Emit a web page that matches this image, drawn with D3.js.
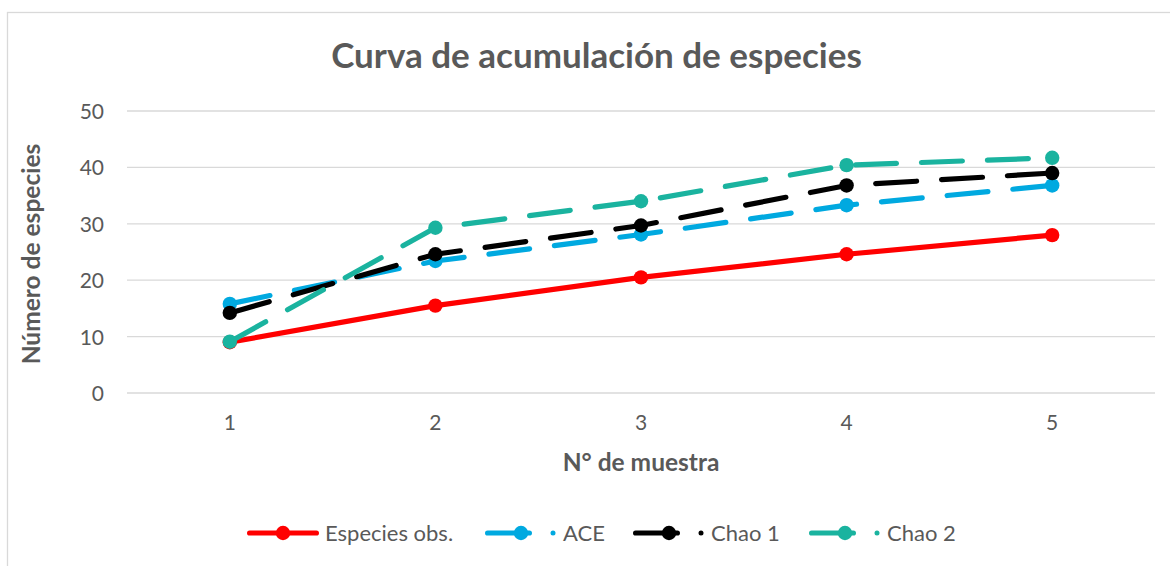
<!DOCTYPE html>
<html>
<head>
<meta charset="utf-8">
<script src="https://cdn.jsdelivr.net/npm/d3@7"></script>
<style>
  html, body { margin: 0; padding: 0; background: #fff; }
  svg { display: block; }
</style>
</head>
<body>
<svg id="chart" width="1170" height="566"></svg>
<script>
// Species accumulation data per sample
const samples = [1, 2, 3, 4, 5];
const especiesObs = [9, 15.5, 20.5, 24.6, 28];
const ace = [15.8, 23.4, 28.1, 33.3, 36.8];
const chao1 = [14.2, 24.6, 29.7, 36.8, 39];
const chao2 = [9.1, 29.3, 34, 40.4, 41.7];
const yTicks = [0, 10, 20, 30, 40, 50];

const seriesNames = ["Especies obs.", "ACE", "Chao 1", "Chao 2"];
const seriesValues = [especiesObs, ace, chao1, chao2];
const seriesColors = ["#ff0000", "#00a9e0", "#000000", "#1ab39f"];
const seriesDashed = [false, true, true, true];

const font = "Lato, 'Open Sans', sans-serif";
const textColor = "#595959";
const lineWidth = 5.2;
const markerR = 7.2;
const dash = "41 25";

const svg = d3.select("#chart");
const W = 1170, H = 566;

// Outer chart frame
svg.append("rect")
  .attr("x", 7.5).attr("y", 12.5)
  .attr("width", W + 10).attr("height", H + 10)
  .attr("fill", "#fff").attr("stroke", "#d9d9d9").attr("stroke-width", 1.3);

const plot = { left: 127, right: 1155, top: 111, bottom: 393 };

const x = d3.scaleBand().domain(samples).range([plot.left, plot.right]);
const y = d3.scaleLinear().domain([0, 50]).range([plot.bottom, plot.top]);
const cx = d => x(d) + x.bandwidth() / 2;

// Horizontal gridlines
svg.append("g").selectAll("line").data(yTicks).join("line")
  .attr("x1", plot.left).attr("x2", plot.right)
  .attr("y1", d => y(d)).attr("y2", d => y(d))
  .attr("stroke", "#d9d9d9").attr("stroke-width", 1.3);

// Y axis labels
const yAxis = svg.append("g")
  .attr("transform", `translate(${plot.left - 23},0)`)
  .call(d3.axisLeft(y).tickValues(yTicks).tickSize(0).tickPadding(0));
yAxis.select(".domain").remove();
yAxis.selectAll("text")
  .attr("font-family", font).attr("font-size", 21)
  .attr("fill", textColor).attr("dy", "0.36em");

// X axis labels
const xAxis = svg.append("g")
  .attr("transform", `translate(0,${plot.bottom + 37})`)
  .call(d3.axisBottom(x).tickSize(0).tickPadding(0));
xAxis.select(".domain").remove();
xAxis.selectAll("text")
  .attr("font-family", font).attr("font-size", 21)
  .attr("fill", textColor).attr("y", 0).attr("dy", 0);

// Title
svg.append("text")
  .attr("x", 596.5).attr("y", 68)
  .attr("text-anchor", "middle")
  .attr("font-family", font).attr("font-weight", "bold")
  .attr("font-size", 35).attr("fill", textColor)
  .text("Curva de acumulación de especies");

// Axis titles
svg.append("text")
  .attr("x", 641).attr("y", 471)
  .attr("text-anchor", "middle")
  .attr("font-family", font).attr("font-weight", "bold")
  .attr("font-size", 24.5).attr("fill", textColor)
  .text("N° de muestra");

svg.append("text")
  .attr("transform", `translate(40,254) rotate(-90)`)
  .attr("text-anchor", "middle")
  .attr("font-family", font).attr("font-weight", "bold")
  .attr("font-size", 24.5).attr("fill", textColor)
  .text("Número de especies");

// Series lines and markers
const line = d3.line().x((d, i) => cx(samples[i])).y(d => y(d));
seriesValues.forEach((vals, k) => {
  const g = svg.append("g");
  g.append("path")
    .attr("d", line(vals))
    .attr("fill", "none")
    .attr("stroke", seriesColors[k])
    .attr("stroke-width", lineWidth)
    .attr("stroke-linecap", "round")
    .attr("stroke-linejoin", "round")
    .attr("stroke-dasharray", seriesDashed[k] ? dash : null);
  g.selectAll("circle").data(vals).join("circle")
    .attr("cx", (d, i) => cx(samples[i]))
    .attr("cy", d => y(d))
    .attr("r", markerR)
    .attr("fill", seriesColors[k]);
});

// Legend
const legendY = 533;
const legendX = [247, 485, 633, 809];
const legend = svg.append("g");
seriesNames.forEach((name, k) => {
  const x0 = legendX[k];
  const g = legend.append("g");
  const half = lineWidth / 2;
  g.append("line")
    .attr("x1", x0 + half).attr("x2", seriesDashed[k] ? x0 + 47 - half : x0 + 72 - half)
    .attr("y1", legendY).attr("y2", legendY)
    .attr("stroke", seriesColors[k]).attr("stroke-width", lineWidth)
    .attr("stroke-linecap", "round");
  if (seriesDashed[k]) {
    g.append("circle").attr("cx", x0 + 68).attr("cy", legendY).attr("r", 2.5)
      .attr("fill", seriesColors[k]);
  }
  g.append("circle").attr("cx", x0 + 36).attr("cy", legendY).attr("r", markerR)
    .attr("fill", seriesColors[k]);
  g.append("text").attr("x", x0 + 78).attr("y", legendY).attr("dy", "0.36em")
    .attr("font-family", font).attr("font-size", 22).attr("fill", textColor)
    .text(name);
});
</script>
</body>
</html>
